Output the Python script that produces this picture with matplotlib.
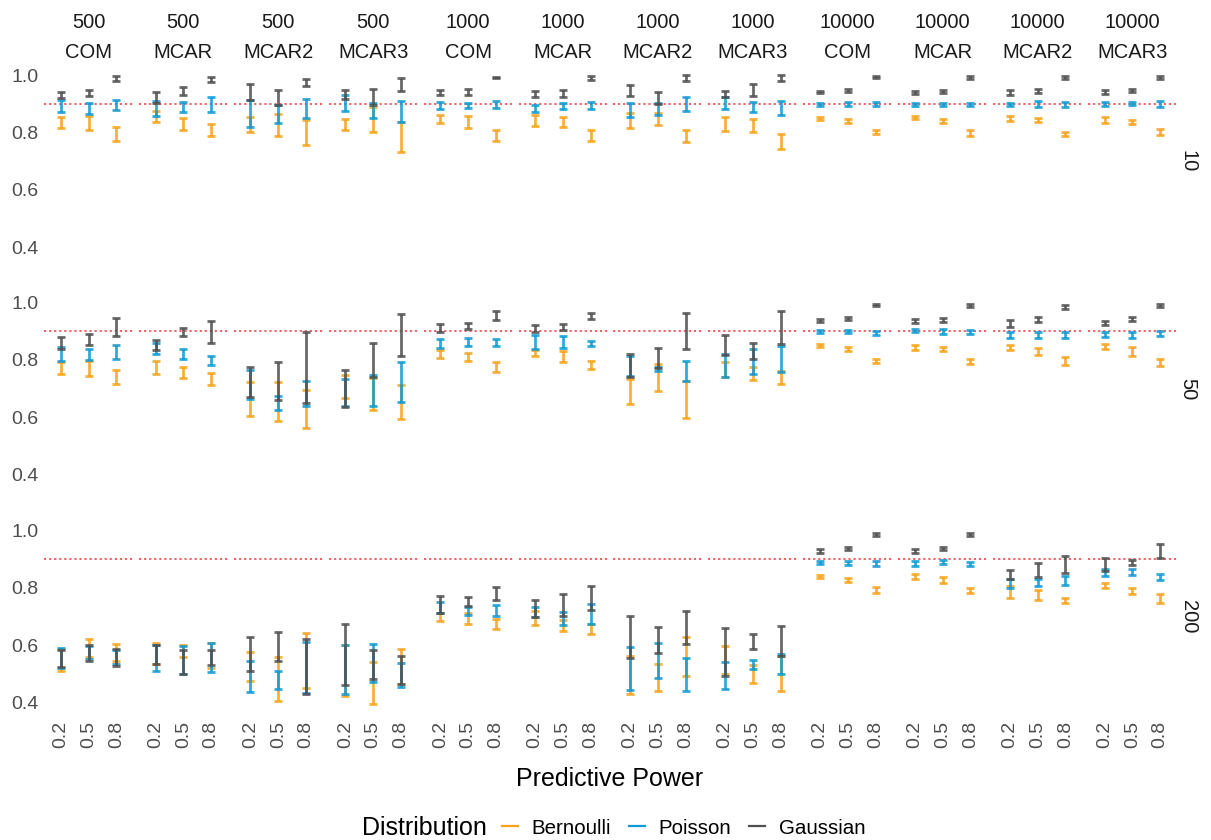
import matplotlib
matplotlib.use("Agg")
import matplotlib.pyplot as plt
from matplotlib.lines import Line2D

# ---------------- data ----------------
sample_sizes = ["500"] * 4 + ["1000"] * 4 + ["10000"] * 4
missing_types = ["COM", "MCAR", "MCAR2", "MCAR3"] * 3
n_vars = ["10", "50", "200"]
powers = ["0.2", "0.5", "0.8"]
distributions = ["Bernoulli", "Poisson", "Gaussian"]
target = 0.9

# (low, high) interval for each column panel and predictive power
bern_10 = [
    [(0.816, 0.852), (0.809, 0.857), (0.770, 0.819)],
    [(0.836, 0.874), (0.808, 0.850), (0.786, 0.829)],
    [(0.801, 0.855), (0.787, 0.865), (0.755, 0.842)],
    [(0.809, 0.848), (0.800, 0.888), (0.731, 0.837)],
    [(0.833, 0.859), (0.815, 0.856), (0.769, 0.808)],
    [(0.821, 0.859), (0.820, 0.852), (0.770, 0.810)],
    [(0.815, 0.869), (0.827, 0.866), (0.767, 0.810)],
    [(0.805, 0.853), (0.801, 0.848), (0.743, 0.794)],
    [(0.843, 0.855), (0.834, 0.845), (0.794, 0.807)],
    [(0.845, 0.857), (0.833, 0.847), (0.788, 0.809)],
    [(0.838, 0.857), (0.837, 0.851), (0.787, 0.803)],
    [(0.834, 0.855), (0.830, 0.844), (0.790, 0.813)],
]
pois_10 = [
    [(0.872, 0.913), (0.864, 0.901), (0.877, 0.913)],
    [(0.858, 0.910), (0.872, 0.906), (0.872, 0.923)],
    [(0.820, 0.912), (0.833, 0.895), (0.850, 0.917)],
    [(0.873, 0.929), (0.849, 0.901), (0.837, 0.909)],
    [(0.881, 0.907), (0.884, 0.903), (0.884, 0.910)],
    [(0.870, 0.894), (0.883, 0.902), (0.883, 0.905)],
    [(0.852, 0.901), (0.860, 0.903), (0.876, 0.923)],
    [(0.880, 0.924), (0.872, 0.905), (0.860, 0.908)],
    [(0.892, 0.903), (0.892, 0.905), (0.892, 0.905)],
    [(0.892, 0.903), (0.892, 0.903), (0.892, 0.903)],
    [(0.891, 0.903), (0.887, 0.909), (0.890, 0.905)],
    [(0.893, 0.907), (0.894, 0.907), (0.887, 0.908)],
]
gaus_10 = [
    [(0.919, 0.940), (0.927, 0.947), (0.979, 0.995)],
    [(0.903, 0.942), (0.930, 0.960), (0.976, 0.992)],
    [(0.912, 0.969), (0.894, 0.949), (0.963, 0.986)],
    [(0.917, 0.947), (0.894, 0.951), (0.945, 0.988)],
    [(0.929, 0.947), (0.929, 0.951), (0.989, 0.993)],
    [(0.924, 0.945), (0.924, 0.949), (0.983, 0.998)],
    [(0.926, 0.965), (0.898, 0.941), (0.979, 1.001)],
    [(0.924, 0.944), (0.928, 0.969), (0.980, 1.001)],
    [(0.936, 0.944), (0.940, 0.950), (0.988, 0.996)],
    [(0.934, 0.943), (0.936, 0.947), (0.986, 0.995)],
    [(0.931, 0.949), (0.937, 0.952), (0.986, 0.995)],
    [(0.933, 0.947), (0.940, 0.952), (0.986, 0.996)],
]

bern_50 = [
    [(0.750, 0.792), (0.743, 0.798), (0.716, 0.764)],
    [(0.752, 0.797), (0.736, 0.777), (0.713, 0.756)],
    [(0.603, 0.723), (0.587, 0.724), (0.564, 0.695)],
    [(0.669, 0.747), (0.626, 0.736), (0.593, 0.714)],
    [(0.806, 0.835), (0.795, 0.824), (0.759, 0.794)],
    [(0.813, 0.834), (0.793, 0.831), (0.767, 0.797)],
    [(0.647, 0.735), (0.692, 0.785), (0.597, 0.728)],
    [(0.741, 0.793), (0.729, 0.776), (0.716, 0.762)],
    [(0.844, 0.855), (0.831, 0.845), (0.791, 0.805)],
    [(0.836, 0.853), (0.833, 0.847), (0.785, 0.803)],
    [(0.836, 0.851), (0.817, 0.843), (0.781, 0.810)],
    [(0.838, 0.856), (0.814, 0.845), (0.779, 0.802)],
]
pois_50 = [
    [(0.797, 0.847), (0.800, 0.840), (0.803, 0.852)],
    [(0.820, 0.858), (0.803, 0.840), (0.783, 0.813)],
    [(0.663, 0.765), (0.627, 0.673), (0.641, 0.726)],
    [(0.641, 0.735), (0.640, 0.748), (0.653, 0.792)],
    [(0.842, 0.873), (0.850, 0.876), (0.850, 0.873)],
    [(0.837, 0.887), (0.842, 0.883), (0.848, 0.867)],
    [(0.743, 0.815), (0.762, 0.777), (0.728, 0.798)],
    [(0.741, 0.821), (0.752, 0.840), (0.757, 0.848)],
    [(0.895, 0.903), (0.893, 0.903), (0.887, 0.902)],
    [(0.897, 0.909), (0.891, 0.907), (0.890, 0.903)],
    [(0.876, 0.897), (0.876, 0.897), (0.876, 0.897)],
    [(0.879, 0.898), (0.877, 0.898), (0.883, 0.902)],
]
gaus_50 = [
    [(0.838, 0.879), (0.851, 0.892), (0.884, 0.948)],
    [(0.834, 0.871), (0.884, 0.910), (0.859, 0.935)],
    [(0.672, 0.777), (0.662, 0.792), (0.651, 0.897)],
    [(0.636, 0.766), (0.742, 0.858), (0.814, 0.962)],
    [(0.898, 0.924), (0.908, 0.930), (0.938, 0.971)],
    [(0.898, 0.921), (0.906, 0.927), (0.944, 0.963)],
    [(0.742, 0.821), (0.772, 0.842), (0.837, 0.963)],
    [(0.817, 0.886), (0.802, 0.859), (0.855, 0.970)],
    [(0.933, 0.942), (0.940, 0.950), (0.987, 0.994)],
    [(0.929, 0.944), (0.934, 0.948), (0.986, 0.994)],
    [(0.916, 0.940), (0.933, 0.950), (0.978, 0.992)],
    [(0.923, 0.937), (0.935, 0.949), (0.984, 0.994)],
]

bern_200 = [
    [(0.510, 0.587), (0.559, 0.622), (0.545, 0.602)],
    [(0.534, 0.608), (0.557, 0.600), (0.521, 0.606)],
    [(0.473, 0.577), (0.406, 0.559), (0.451, 0.641)],
    [(0.422, 0.601), (0.395, 0.541), (0.463, 0.585)],
    [(0.683, 0.713), (0.673, 0.713), (0.656, 0.690)],
    [(0.669, 0.720), (0.650, 0.687), (0.637, 0.675)],
    [(0.428, 0.560), (0.440, 0.533), (0.492, 0.627)],
    [(0.499, 0.598), (0.469, 0.531), (0.440, 0.563)],
    [(0.834, 0.845), (0.821, 0.835), (0.783, 0.801)],
    [(0.829, 0.848), (0.817, 0.836), (0.780, 0.800)],
    [(0.763, 0.806), (0.756, 0.792), (0.747, 0.764)],
    [(0.799, 0.817), (0.778, 0.800), (0.745, 0.778)],
]
pois_200 = [
    [(0.519, 0.590), (0.551, 0.595), (0.534, 0.581)],
    [(0.508, 0.600), (0.499, 0.598), (0.507, 0.606)],
    [(0.435, 0.543), (0.445, 0.508), (0.434, 0.612)],
    [(0.428, 0.601), (0.470, 0.602), (0.455, 0.538)],
    [(0.710, 0.750), (0.705, 0.734), (0.702, 0.740)],
    [(0.699, 0.733), (0.671, 0.716), (0.672, 0.742)],
    [(0.443, 0.592), (0.484, 0.606), (0.440, 0.553)],
    [(0.445, 0.541), (0.515, 0.549), (0.500, 0.569)],
    [(0.881, 0.894), (0.878, 0.892), (0.877, 0.893)],
    [(0.877, 0.892), (0.881, 0.897), (0.874, 0.891)],
    [(0.800, 0.829), (0.806, 0.831), (0.808, 0.841)],
    [(0.841, 0.864), (0.844, 0.866), (0.828, 0.848)],
]
gaus_200 = [
    [(0.524, 0.583), (0.545, 0.600), (0.527, 0.585)],
    [(0.534, 0.600), (0.499, 0.581), (0.529, 0.583)],
    [(0.508, 0.627), (0.545, 0.645), (0.430, 0.621)],
    [(0.459, 0.673), (0.480, 0.583), (0.465, 0.560)],
    [(0.713, 0.771), (0.737, 0.767), (0.757, 0.801)],
    [(0.697, 0.758), (0.701, 0.779), (0.721, 0.807)],
    [(0.553, 0.701), (0.571, 0.662), (0.602, 0.719)],
    [(0.493, 0.658), (0.585, 0.637), (0.563, 0.667)],
    [(0.922, 0.935), (0.931, 0.943), (0.981, 0.991)],
    [(0.921, 0.936), (0.931, 0.943), (0.980, 0.991)],
    [(0.829, 0.860), (0.837, 0.885), (0.850, 0.910)],
    [(0.859, 0.902), (0.879, 0.898), (0.902, 0.951)],
]

row_data = {
    "10": [bern_10, pois_10, gaus_10],
    "50": [bern_50, pois_50, gaus_50],
    "200": [bern_200, pois_200, gaus_200],
}
dist_colors = ["#F7A21B", "#0E9AD2", "#4F4F4F"]

# ---------------- layout ----------------
plt.rcParams["font.family"] = ["Liberation Sans", "DejaVu Sans"]
W, H = 1211, 840
fig = plt.figure(figsize=(W / 100, H / 100), dpi=100)

panel_w = 89
panel_step = 94.9
left0 = 44
row_top = [65, 292.6, 520.3]
panel_h = 192.1
ylim = (0.365, 1.035)

for r, nv in enumerate(n_vars):
    for c in range(12):
        lpx = left0 + c * panel_step
        ax = fig.add_axes([lpx / W, 1 - (row_top[r] + panel_h) / H,
                           panel_w / W, panel_h / H])
        ax.set_xlim(0.4, 3.6)
        ax.set_ylim(*ylim)
        for s in ax.spines.values():
            s.set_visible(False)
        ax.axhline(target, color="#E8383D", lw=1.3, ls=(0, (1.2, 1.6)),
                   alpha=0.85, zorder=1)
        for d, dname in enumerate(distributions):
            series = row_data[nv][d][c]
            for p in range(len(powers)):
                lo, hi = series[p]
                ax.errorbar(p + 1, (lo + hi) / 2, yerr=(hi - lo) / 2,
                            fmt="none", ecolor=dist_colors[d], elinewidth=2.0,
                            capsize=3.1, capthick=2.0, alpha=0.85, zorder=2 + d)
        ax.set_xticks([1, 2, 3])
        ax.set_yticks([0.4, 0.6, 0.8, 1.0])
        ax.tick_params(length=0, colors="#4D4D4D", labelsize=14)
        if r == 2:
            ax.set_xticklabels(powers, rotation=90, color="#4D4D4D")
            ax.tick_params(axis="x", pad=6)
        else:
            ax.set_xticklabels([])
        if c == 0:
            ax.set_yticklabels(["0.4", "0.6", "0.8", "1.0"], color="#4D4D4D")
            ax.tick_params(axis="y", pad=4)
        else:
            ax.set_yticklabels([])
        # column strips
        if r == 0:
            cx = (lpx + panel_w / 2) / W
            fig.text(cx, 1 - 22 / H, sample_sizes[c], ha="center", va="center",
                     fontsize=14.5, color="#1A1A1A")
            fig.text(cx, 1 - 52 / H, missing_types[c], ha="center", va="center",
                     fontsize=14.5, color="#1A1A1A")
    # row strip
    fig.text(1188 / W, 1 - (row_top[r] + panel_h / 2) / H, nv, rotation=-90,
             ha="center", va="center", fontsize=14.5, color="#1A1A1A")

fig.text(610 / W, 1 - 779 / H, "Predictive Power", ha="center", va="center",
         fontsize=18, color="#000000")

fig.text(362 / W, 1 - 828 / H, "Distribution", ha="left", va="center",
         fontsize=18, color="#000000")
handles = [Line2D([0], [0], color=col, lw=1.6) for col in dist_colors]
fig.legend(handles, distributions, loc="center left",
           bbox_to_anchor=(502 / W, 1 - 828 / H), ncol=3, frameon=False,
           fontsize=14.8, handlelength=0.8, handletextpad=0.65,
           columnspacing=0.85, borderaxespad=0, borderpad=0)

fig.savefig("out.png", dpi=100)
